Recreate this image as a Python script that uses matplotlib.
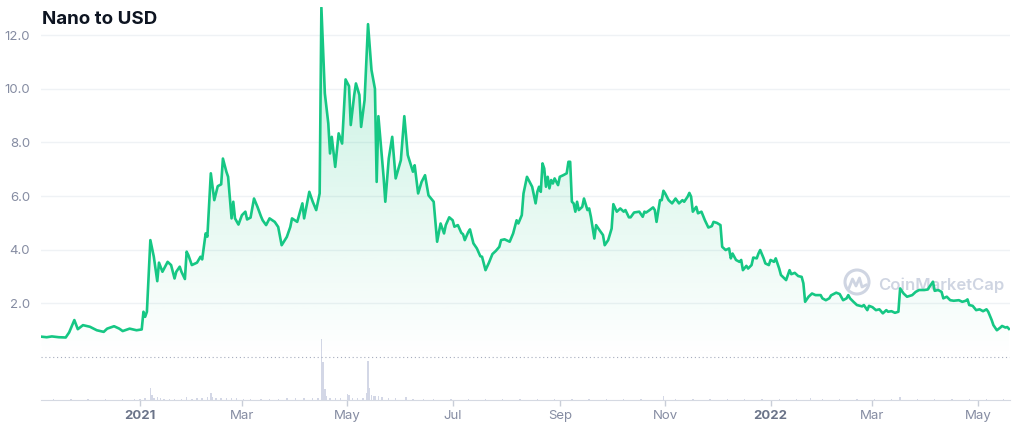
import numpy as np
import pandas as pd
import matplotlib
matplotlib.use("Agg")
import matplotlib.pyplot as plt
import matplotlib.dates as mdates
from matplotlib.patches import Ellipse
from matplotlib.lines import Line2D

plt.rcParams['font.family'] = ['Inter', 'DejaVu Sans']

# price, days counted from 2021-01-01
day = [-57, -54, -51, -47, -43, -41, -38, -36, -33, -29, -25, -21, -19, -15, -12, -10, -6, -2,
       1, 2, 3, 4, 6, 8, 10, 11, 13, 16, 18, 20, 21, 23, 24, 26, 27, 28, 30, 33, 35, 36, 38, 39,
       41, 43, 45, 47, 48, 50, 51, 53, 54, 55, 57, 59, 61, 62, 64, 66, 68, 70, 71, 73, 75, 78,
       80, 82, 85, 87, 88, 91, 94, 95, 98, 100, 102, 104, 105, 107, 109, 110, 111, 113, 115, 117,
       119, 121, 122, 124, 125, 127, 128, 130, 132, 134, 136, 137, 138, 141, 142, 144, 146, 148,
       151, 153, 155, 158, 159, 161, 163, 165, 167, 170, 172, 174, 176, 177, 179, 181, 182, 184,
       186, 187, 188, 190, 191, 193, 195, 197, 198, 200, 202, 204, 206, 208, 209, 211, 214, 216,
       218, 219, 221, 222, 224, 226, 227, 229, 230, 231, 232, 233, 234, 235, 236, 237, 238, 239,
       240, 242, 243, 245, 247, 248, 249, 250, 251, 252, 253, 254, 256, 257, 259, 260, 261, 263,
       264, 266, 268, 269, 271, 273, 274, 276, 278, 280, 281, 283, 284, 286, 289, 291, 292, 293,
       295, 297, 298, 299, 301, 302, 303, 304, 306, 308, 310, 312, 314, 315, 317, 318, 319, 320,
       322, 323, 325, 327, 329, 331, 332, 334, 336, 337, 339, 341, 342, 343, 345, 347, 348, 349,
       351, 352, 354, 355, 357, 358, 359, 361, 362, 364, 365, 367, 368, 370, 371, 373, 374, 376,
       377, 379, 381, 383, 384, 385, 387, 389, 391, 394, 395, 397, 399, 400, 403, 405, 407, 409,
       410, 411, 413, 415, 418, 419, 421, 422, 424, 426, 428, 430, 432, 433, 435, 437, 439, 440,
       442, 444, 447, 449, 451, 454, 456, 457, 459, 460, 462, 464, 465, 467, 469, 471, 474, 476,
       478, 479, 480, 482, 484, 486, 488, 490, 491, 493, 494, 496, 498, 499, 501, 502, 503]
price = [0.76, 0.74, 0.77, 0.74, 0.73, 0.92, 1.38, 1.04, 1.19, 1.13, 1.00, 0.94, 1.06, 1.15, 1.06, 0.97, 1.06, 1.00,
         1.03, 1.69, 1.50, 1.69, 4.36, 3.74, 2.83, 3.52, 3.18, 3.55, 3.43, 2.93, 3.18, 3.37, 3.18, 2.91, 3.93, 3.80, 3.43, 3.52, 3.74, 3.64, 4.61, 4.49,
         6.85, 5.85, 6.37, 6.44, 7.40, 6.91, 6.72, 5.17, 5.79, 5.17, 4.94, 5.29, 5.42, 5.13, 5.20, 5.91, 5.60, 5.25, 5.10, 4.92, 5.17, 5.04,
         4.85, 4.17, 4.48, 4.85, 5.17, 5.04, 5.73, 5.17, 6.16, 5.79, 5.48, 6.10, 13.03, 9.83, 8.71, 7.59, 8.21, 7.09, 8.34, 7.96,
         10.35, 10.10, 8.65, 9.77, 10.20, 9.77, 8.58, 9.58, 12.41, 10.70, 10.00, 6.53, 8.98, 6.72, 5.79, 7.40, 8.21, 6.66,
         7.34, 8.98, 7.53, 6.91, 7.15, 6.10, 6.53, 6.78, 6.03, 5.79, 4.30, 4.98, 4.61, 4.92, 5.21, 5.10, 4.86, 4.92,
         4.63, 4.58, 4.36, 4.66, 4.76, 4.24, 4.05, 3.76, 3.74, 3.24, 3.52, 3.84, 3.96, 4.11, 4.36, 4.39, 4.30, 4.61,
         5.10, 4.98, 5.29, 6.10, 6.72, 6.47, 6.35, 5.73, 6.16, 6.35, 6.16, 7.22, 7.03, 6.35, 6.72, 6.29, 6.60, 6.47,
         6.66, 6.41, 6.72, 6.78, 6.85, 7.28, 7.28, 5.79, 5.73, 5.42, 5.79, 5.48, 5.60, 5.91, 5.48, 5.54, 5.23, 4.42,
         4.92, 4.73, 4.55, 4.17, 4.36, 4.79, 5.70, 5.42, 5.54, 5.42, 5.48, 5.21, 5.21, 5.39, 5.42, 5.23, 5.42, 5.39,
         5.48, 5.58, 5.48, 5.04, 5.85, 5.85, 6.20, 6.10, 5.85, 5.73, 5.91, 5.73, 5.85, 5.79, 5.98, 6.12, 5.98, 5.42,
         5.60, 5.36, 5.42, 5.10, 4.83, 4.88, 5.04, 5.00, 4.92, 4.11, 3.99, 4.05, 3.68, 3.86, 3.62, 3.55, 3.62, 3.24,
         3.40, 3.30, 3.43, 3.71, 3.68, 3.86, 3.99, 3.68, 3.49, 3.43, 3.62, 3.55, 3.68, 3.30, 3.06, 2.93, 2.87, 3.24,
         3.09, 3.14, 3.02, 2.99, 2.75, 2.06, 2.25, 2.37, 2.31, 2.31, 2.19, 2.12, 2.19, 2.30, 2.40, 2.35, 2.12, 2.19,
         2.31, 2.19, 2.06, 1.94, 1.89, 1.94, 1.75, 1.91, 1.86, 1.75, 1.78, 1.63, 1.75, 1.69, 1.71, 1.65, 1.69, 2.56,
         2.37, 2.25, 2.31, 2.43, 2.50, 2.50, 2.52, 2.62, 2.81, 2.47, 2.50, 2.43, 2.19, 2.25, 2.12, 2.10, 2.12, 2.06,
         2.10, 2.15, 1.94, 1.91, 1.75, 1.78, 1.71, 1.78, 1.69, 1.38, 1.19, 1.00, 1.10, 1.16, 1.10, 1.12, 1.05]

# trading volume (million USD), days counted from 2021-01-01
vol_day = [-50, -40, -30, -20, -10, -3, 0, 3, 6, 7, 8, 10, 12, 14, 17, 20, 24, 27, 30, 33, 36, 39, 41, 42,
           44, 47, 50, 53, 56, 60, 64, 70, 75, 80, 85, 90, 95, 100, 103, 105, 106, 107, 108, 110, 113,
           116, 120, 121, 123, 126, 129, 131, 132, 133, 134, 135, 136, 138, 140, 144, 148, 154, 158,
           164, 170, 180, 190, 200, 210, 220, 230, 240, 250, 260, 270, 280, 290, 303, 310, 320, 330,
           340, 350, 360, 370, 380, 388, 395, 405, 415, 425, 435, 440, 450, 460, 470, 480, 490, 500]
volume = [10, 10, 10, 10, 10, 10, 12, 20, 117, 50, 17, 33, 20, 15, 15, 12, 15, 27, 15, 17, 17, 33, 73, 33,
          23, 23, 23, 20, 17, 12, 10, 10, 10, 12, 17, 17, 17, 17, 20, 610, 383, 107, 40, 17, 17,
          17, 60, 50, 23, 23, 23, 67, 390, 117, 50, 43, 43, 43, 30, 17, 17, 33, 15,
          10, 10, 12, 10, 12, 10, 10, 12, 15, 12, 10, 12, 10, 12, 43, 12, 10, 12,
          10, 10, 12, 10, 12, 23, 12, 10, 12, 10, 15, 33, 12, 12, 10, 12, 10, 12]

tick_dates = ['2021-01-01', '2021-03-01', '2021-05-01', '2021-07-01', '2021-09-01',
              '2021-11-01', '2022-01-01', '2022-03-01', '2022-05-01']
tick_labels = ['2021', 'Mar', 'May', 'Jul', 'Sep', 'Nov', '2022', 'Mar', 'May']
y_ticks = [2.0, 4.0, 6.0, 8.0, 10.0, 12.0]

green = '#16c784'
label_grey = '#858ca2'

start = pd.Timestamp('2021-01-01')
dates = start + pd.to_timedelta(day, unit='D')
vdates = start + pd.to_timedelta(vol_day, unit='D')

fig = plt.figure(figsize=(10.24, 4.28), dpi=100)
ax = fig.add_axes([41 / 1024, 28 / 428, 969 / 1024, 393 / 428])
ymin, ymax = -1.60, 13.05
xmin = start + pd.Timedelta(days=-57.3)
xmax = start + pd.Timedelta(days=503.6)

# volume bars on a hidden twin axis
vax = ax.twinx()
vax.bar(vdates, volume, width=0.8, color='#d3d7e6', zorder=1)
vax.set_ylim(0, 3930)
vax.set_yticks([])
for s in vax.spines.values():
    s.set_visible(False)

ax.set_zorder(vax.get_zorder() + 1)
ax.patch.set_visible(False)

# watermark (behind the price line)
wm = '#cfd5e2'
fig.text(878 / 1024, 1 - 285 / 428, 'CoinMarketCap', fontsize=12, color=wm,
         fontweight='semibold', ha='left', va='center', zorder=0)
cx, cy = 857, 282
fig.add_artist(Ellipse((cx / 1024, 1 - cy / 428), 24 / 1024, 24 / 428,
                       fill=False, ec=wm, lw=2.2, zorder=0))
wave = [(-8, 6), (-4.5, -3), (-1, 4), (2.5, -4), (5, 5), (9, 3)]
fig.add_artist(Line2D([(cx + dx) / 1024 for dx, dy in wave],
                      [1 - (cy + dy) / 428 for dx, dy in wave],
                      color=wm, lw=2.0, solid_joinstyle='round', zorder=0))

# gradient fill under the price line
poly = ax.fill_between(dates, price, 0, color='none', lw=0)
n = 256
grad = np.zeros((n, 1, 4))
grad[:, 0, :3] = matplotlib.colors.to_rgb(green)
grad[:, 0, 3] = np.linspace(0.26, 0.0, n)
x0, x1 = mdates.date2num(xmin), mdates.date2num(xmax)
im = ax.imshow(grad, extent=[x0, x1, 0, ymax], aspect='auto', origin='upper', zorder=2)
im.set_clip_path(poly.get_paths()[0], transform=ax.transData)

ax.plot(dates, price, color=green, lw=1.9, zorder=4, solid_joinstyle='round')

ax.axhline(0, color='#a6acbd', lw=0.8, ls=(0, (1, 2.5)), zorder=3)
for yv in y_ticks:
    ax.axhline(yv, color='#eff2f5', lw=1, zorder=0)

ax.set_xlim(xmin, xmax)
ax.set_ylim(ymin, ymax)

ax.set_yticks(y_ticks)
ax.set_yticklabels([f'{v:.1f}' for v in y_ticks])
ax.tick_params(axis='y', length=0, pad=8, labelsize=9.5, labelcolor=label_grey)

ax.set_xticks(pd.to_datetime(tick_dates))
ax.set_xticklabels(tick_labels)
ax.tick_params(axis='x', length=4, width=1, color='#c9ced8', pad=3, labelsize=9.5, labelcolor=label_grey)
for lab in ax.get_xticklabels():
    if lab.get_text().isdigit():
        lab.set_fontweight('bold')
        lab.set_color('#6b7489')

for side in ['left', 'right', 'top']:
    ax.spines[side].set_visible(False)
ax.spines['bottom'].set_color('#d5d9e2')
ax.spines['bottom'].set_linestyle((0, (1, 1)))
ax.spines['bottom'].set_linewidth(0.8)

fig.text(42 / 1024, 1 - 20 / 428, 'Nano to USD', fontsize=13.5, fontweight='bold',
         color='#0d1421', ha='left', va='center')

fig.savefig('out.png', dpi=100)
